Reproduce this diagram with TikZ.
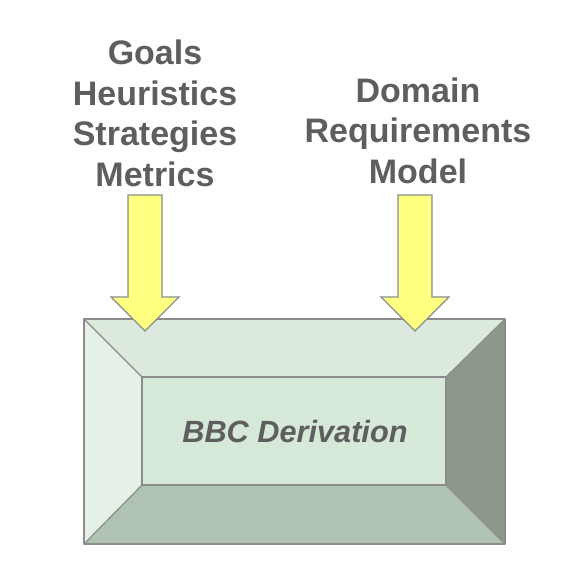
\documentclass[tikz,border=0pt]{standalone}
\usepackage{fontspec}
\setmainfont{Liberation Sans}
\begin{document}
\begin{tikzpicture}[x=1pt,y=-1pt,
  lbl/.style={align=center, text=txtgray, font=\fontsize{34}{40.5}\selectfont\bfseries, inner sep=0pt, anchor=base},
  bevel/.style={draw=edgegray, line width=1.2pt, line join=round},
  blockarrow/.style={draw=edgegray, fill=arrowyellow, line width=1.2pt, line join=miter}
]
\definecolor{txtgray}{HTML}{5E5E5E}
\definecolor{edgegray}{HTML}{8C8C8C}
\definecolor{arrowyellow}{HTML}{FFFF80}
\definecolor{topc}{HTML}{DBEADD}
\definecolor{leftc}{HTML}{E5F0E6}
\definecolor{rightc}{HTML}{8C998A}
\definecolor{bottomc}{HTML}{B0C3B3}
\definecolor{innerc}{HTML}{D6E8D8}
\useasboundingbox (0,0) rectangle (566,578);
% box corners
\coordinate (o1) at (84,319);
\coordinate (o2) at (505,319);
\coordinate (o3) at (505,544);
\coordinate (o4) at (84,544);
\coordinate (i1) at (142,377);
\coordinate (i2) at (446,377);
\coordinate (i3) at (446,485);
\coordinate (i4) at (142,485);
\fill[topc] (o1) -- (o2) -- (i2) -- (i1) -- cycle;
\fill[rightc] (o2) -- (o3) -- (i3) -- (i2) -- cycle;
\fill[bottomc] (o3) -- (o4) -- (i4) -- (i3) -- cycle;
\fill[leftc] (o4) -- (o1) -- (i1) -- (i4) -- cycle;
\draw[bevel, fill=innerc] (i1) rectangle (i3);
\draw[bevel] (o1) -- (i1) (o2) -- (i2) (o3) -- (i3) (o4) -- (i4);
\draw[bevel] (o1) rectangle (o3);
\node[text=txtgray, font=\fontsize{30.7}{36}\selectfont\bfseries\itshape, inner sep=0pt, anchor=base] (bbc) at (295,442) {BBC Derivation};
% labels
\node[lbl] (left) at (155,186) {Goals\\Heuristics\\Strategies\\Metrics};
\node[lbl] (right) at (418,183) {Domain\\Requirements\\Model};
% block arrows
\draw[blockarrow] (128,195) -- (162,195) -- (162,297) -- (179,297) -- (145,331) -- (111,297) -- (128,297) -- cycle;
\draw[blockarrow] (398,195) -- (432,195) -- (432,297) -- (449,297) -- (415,331) -- (381,297) -- (398,297) -- cycle;
\end{tikzpicture}
\end{document}
